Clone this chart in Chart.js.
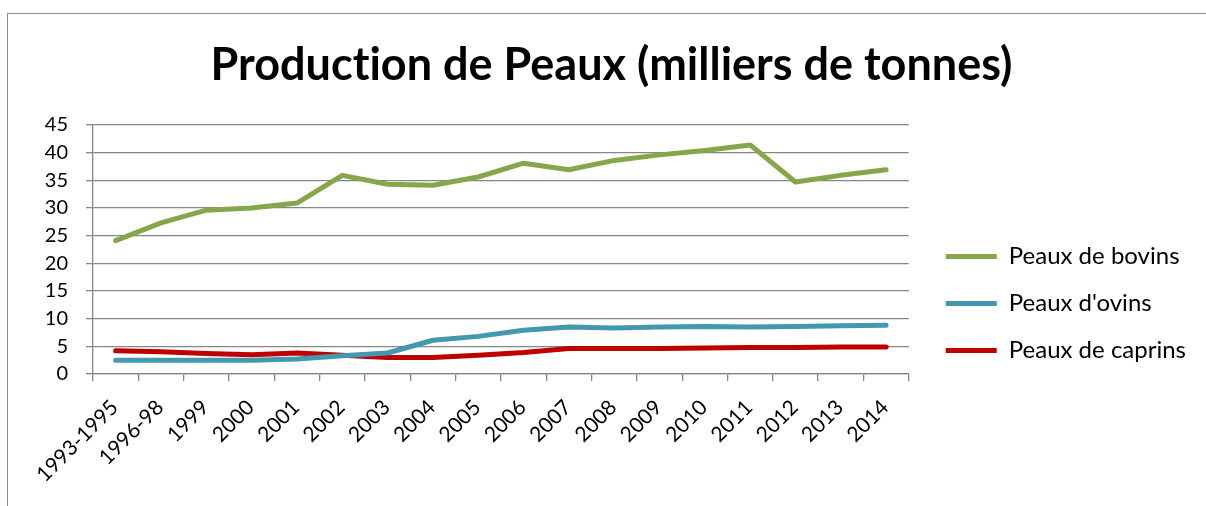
<!DOCTYPE html>
<html>
<head>
<meta charset="utf-8">
<script src="https://cdn.jsdelivr.net/npm/chart.js@4"></script>
<style>
  html, body { margin: 0; padding: 0; overflow: hidden; background: #fff; }
  #frame {
    position: absolute; left: 7px; top: 13px;
    width: 1207px; height: 493px;
    border-left: 1px solid #8c8c8c; border-top: 1px solid #8c8c8c;
  }
  #chart { display: block; }
</style>
</head>
<body>
<div id="frame"><canvas id="chart" width="1207" height="493"></canvas></div>
<script>
// categories on the x axis
const years = ["1993-1995", "1996-98", "1999", "2000", "2001", "2002", "2003", "2004", "2005",
  "2006", "2007", "2008", "2009", "2010", "2011", "2012", "2013", "2014"];
// production, thousands of tonnes
const bovins = [24.1, 27.3, 29.6, 30.0, 30.9, 35.9, 34.3, 34.1, 35.6, 38.1, 36.9, 38.6, 39.6, 40.4, 41.4, 34.7, 35.9, 36.9];
const ovins = [2.5, 2.5, 2.5, 2.5, 2.7, 3.3, 3.8, 6.1, 6.8, 7.9, 8.5, 8.3, 8.5, 8.6, 8.5, 8.6, 8.7, 8.8];
const caprins = [4.2, 4.0, 3.7, 3.5, 3.8, 3.4, 3.0, 3.0, 3.4, 3.9, 4.6, 4.6, 4.6, 4.7, 4.8, 4.8, 4.9, 4.9];

const gridColor = "#868686";
const font = "Lato";
const padRight = 33;

// nudge title and legend to where Excel puts them
const nudge = {
  id: "nudge",
  afterLayout(chart) {
    const t = chart.titleBlock;
    t.left += padRight / 2; t.right += padRight / 2;
    const lg = chart.legend;
    lg.left += 14; lg.right += 14;
    lg.top += 43; lg.bottom += 43;
  },
  beforeDraw(chart) {
    // no "ti" ligature in the title
    chart.ctx.textRendering = "optimizeSpeed";
  },
};

const ctx = document.getElementById("chart");

new Chart(ctx, {
  type: "line",
  data: {
    labels: years,
    datasets: [
      { label: "Peaux de bovins", data: bovins, borderColor: "#86A64A", backgroundColor: "#86A64A", borderWidth: 5 },
      { label: "Peaux d'ovins", data: ovins, borderColor: "#4198AF", backgroundColor: "#4198AF", borderWidth: 5 },
      { label: "Peaux de caprins", data: caprins, borderColor: "#C00000", backgroundColor: "#C00000", borderWidth: 5 },
    ],
  },
  options: {
    responsive: false,
    animation: false,
    events: [],
    elements: {
      line: { tension: 0, borderCapStyle: "round", borderJoinStyle: "round" },
      point: { radius: 0 },
    },
    layout: { padding: { top: 0, left: 0, right: padRight, bottom: 0 } },
    plugins: {
      title: {
        display: true,
        text: "Production de Peaux (milliers de tonnes)",
        color: "#000",
        font: { family: font, size: 45, weight: "bold" },
        padding: { top: 24, bottom: 33 },
      },
      legend: {
        position: "right",
        labels: {
          color: "#000",
          font: { family: font, size: 24 },
          usePointStyle: true,
          pointStyle: "line",
          pointStyleWidth: 51,
          padding: 23,
        },
      },
      tooltip: { enabled: false },
    },
    scales: {
      x: {
        offset: true,
        afterFit: (scale) => { scale.height = 133; },
        grid: { offset: true, drawOnChartArea: false, drawTicks: true, tickLength: 7, color: gridColor, lineWidth: 1.3 },
        border: { color: gridColor, width: 1.3 },
        ticks: { color: "#000", font: { family: font, size: 21 }, maxRotation: 45, minRotation: 45, autoSkip: false, padding: 14, labelOffset: -1 },
      },
      y: {
        min: 0,
        max: 45,
        afterFit: (scale) => { scale.width = 85; },
        grid: { color: gridColor, lineWidth: 1.3, tickLength: 7 },
        border: { color: gridColor, width: 1.3 },
        ticks: { stepSize: 5, color: "#000", font: { family: font, size: 20 }, padding: 18 },
      },
    },
  },
  plugins: [nudge],
});
</script>
</body>
</html>
